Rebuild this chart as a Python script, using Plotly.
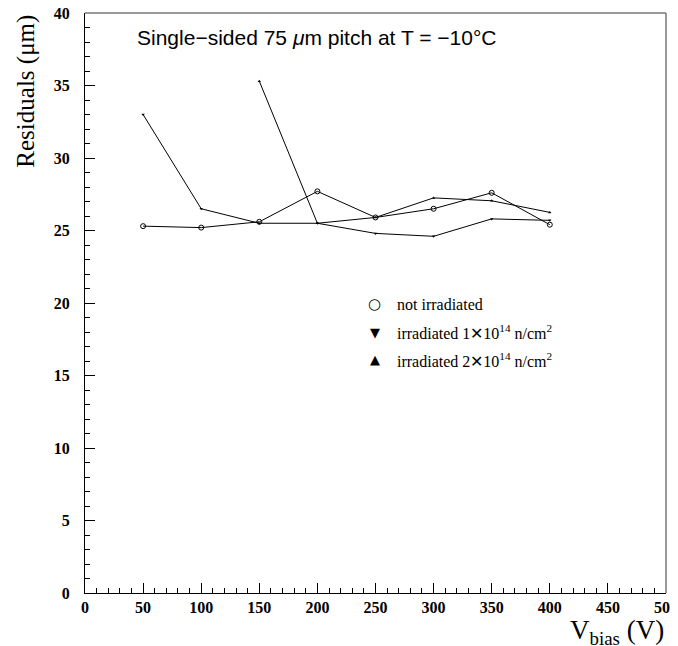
import plotly.graph_objects as go

vbias_not = [50, 100, 150, 200, 250, 300, 350, 400]
res_not = [25.3, 25.2, 25.6, 27.7, 25.9, 26.5, 27.6, 25.4]

vbias_1e14 = [50, 100, 150, 200, 250, 300, 350, 400]
res_1e14 = [33.0, 26.5, 25.5, 25.5, 24.8, 24.6, 25.8, 25.7]

vbias_2e14 = [150, 200, 250, 300, 350, 400]
res_2e14 = [35.3, 25.5, 25.9, 27.25, 27.05, 26.25]

x_ticks = [0, 50, 100, 150, 200, 250, 300, 350, 400, 450, 500]
y_ticks = [0, 5, 10, 15, 20, 25, 30, 35, 40]

fig = go.Figure()
fig.add_trace(go.Scatter(x=vbias_not, y=res_not, mode="lines+markers",
                         line=dict(color="black", width=1),
                         marker=dict(symbol="circle-open", size=5, color="black", line=dict(width=1))))
fig.add_trace(go.Scatter(x=vbias_1e14, y=res_1e14, mode="lines+markers",
                         line=dict(color="black", width=1),
                         marker=dict(symbol="triangle-down", size=3, color="black")))
fig.add_trace(go.Scatter(x=vbias_2e14, y=res_2e14, mode="lines+markers",
                         line=dict(color="black", width=1),
                         marker=dict(symbol="triangle-up", size=3, color="black")))

tickfont = dict(family="Liberation Serif", size=16, color="black")
fig.update_xaxes(range=[0, 500], tickvals=x_ticks, ticktext=["<b>%d</b>" % v for v in x_ticks],
                 showgrid=False, zeroline=False, showline=True, linecolor="black", linewidth=1,
                 ticks="inside", ticklen=10, tickcolor="black", automargin=False,
                 ticklabeloverflow="allow",
                 minor=dict(dtick=10, ticks="inside", ticklen=5, tickcolor="black"),
                 tickfont=tickfont, ticklabelstandoff=0)
fig.update_yaxes(range=[0, 40], tickvals=y_ticks, ticktext=["<b>%d</b>" % v for v in y_ticks],
                 showgrid=False, zeroline=False, showline=True, linecolor="black", linewidth=1,
                 ticks="inside", ticklen=10, tickcolor="black", automargin=False,
                 ticklabeloverflow="allow",
                 minor=dict(dtick=1, ticks="inside", ticklen=5, tickcolor="black"),
                 tickfont=tickfont, ticklabelstandoff=11)

fig.add_shape(type="line", xref="paper", yref="paper", x0=0, x1=1, y0=1, y1=1,
              line=dict(color="#777777", width=1.5))
fig.add_shape(type="line", xref="paper", yref="paper", x0=1, x1=1, y0=0, y1=1,
              line=dict(color="#777777", width=1.5))

fig.add_annotation(text="Single\u2212sided 75 <i>\u03bc</i>m pitch at T = \u221210\u00b0C",
                   xref="paper", yref="paper", x=0.086, y=0.957, xanchor="left", yanchor="middle",
                   showarrow=False, font=dict(family="Liberation Sans", size=21, color="black"))

legend_items = ["\u25cb", "\u25bc", "\u25b2"]
legend_texts = ["not irradiated",
                "irradiated 1\u271510<sup>14</sup> n/cm<sup>2</sup>",
                "irradiated 2\u271510<sup>14</sup> n/cm<sup>2</sup>"]
for i, (sym, txt) in enumerate(zip(legend_items, legend_texts)):
    yy = 0.498 - i * 0.048
    fig.add_annotation(text=sym, xref="paper", yref="paper", x=0.499, y=yy,
                       xanchor="center", yanchor="middle", showarrow=False,
                       font=dict(family="DejaVu Sans", size=13 if i else 15, color="black"))
    fig.add_annotation(text=txt, xref="paper", yref="paper", x=0.534, y=yy,
                       xanchor="left", yanchor="middle", showarrow=False,
                       font=dict(family="Liberation Serif", size=16, color="black"))

fig.add_annotation(text="Residuals (\u03bcm)", xref="paper", yref="paper", x=-0.103, y=1.0,
                   xanchor="center", yanchor="top", textangle=-90, showarrow=False,
                   font=dict(family="Liberation Serif", size=25, color="black"))
fig.add_annotation(text="V<sub>bias</sub> (V)", xref="paper", yref="paper", x=1.0, y=-0.034,
                   xanchor="right", yanchor="top", showarrow=False,
                   font=dict(family="Liberation Serif", size=27, color="black"))

fig.update_layout(width=670, height=638, margin=dict(l=77, r=12, t=5, b=53),
                  plot_bgcolor="white", paper_bgcolor="white", showlegend=False)
fig.write_html("out.html")
